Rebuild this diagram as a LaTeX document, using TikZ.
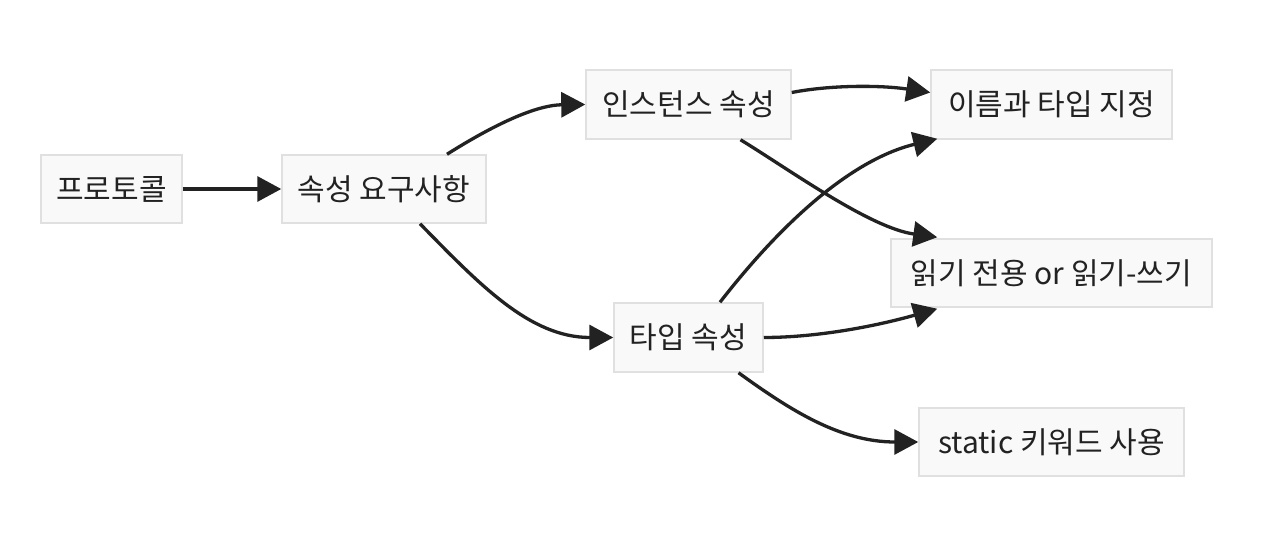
\documentclass[tikz,border=0pt]{standalone}
\usepackage{fontspec}
\setmainfont{Noto Sans CJK KR}
\usetikzlibrary{arrows.meta,calc}
\definecolor{boxfill}{HTML}{F9F9F9}
\definecolor{boxline}{HTML}{E0E0E0}
\definecolor{ink}{HTML}{222222}
\tikzset{
  box/.style={draw=boxline, fill=boxfill, line width=1.5pt, inner sep=0pt,
    minimum height=68pt, text=ink, font=\fontsize{30}{35}\selectfont, align=center},
  conn/.style={draw=ink, line width=3.3pt, -{Triangle[length=24pt,width=25pt]}},
}
\begin{document}
\begin{tikzpicture}[x=1pt,y=-1pt]
\useasboundingbox[fill=white] (0,0) rectangle (1264,540);
\node[box, minimum width=141pt] (proto) at (111.5,189) {프로토콜};
\node[box, minimum width=204pt] (sreq) at (384,189) {속성 요구사항};
\node[box, minimum width=205pt, minimum height=69pt] (inst) at (688.5,104.5) {인스턴스 속성};
\node[box, minimum width=241pt, minimum height=69pt] (name) at (1051.5,104.5) {이름과 타입 지정};
\node[box, minimum width=321pt] (rw) at (1051.5,273) {읽기 전용 or 읽기-쓰기};
\node[box, minimum width=149pt, minimum height=69pt] (type) at (688.5,337.5) {타입 속성};
\node[box, minimum width=265pt] (stat) at (1051.5,442) {static 키워드 사용};

\draw[conn] (proto.east) -- (sreq.west);
\draw[conn] ($(sreq.north)+(63,0)$) .. controls (503,119) and (540,105) .. (inst.west);
\draw[conn] ($(sreq.south)+(36,0)$) .. controls (480,285) and (530,337.5) .. (type.west);
\draw[conn] ($(inst.east)+(0,-12)$) .. controls (830,85) and (880,85) .. ($(name.west)+(0,-12)$);
\draw[conn] ($(inst.south)+(52,0)$) .. controls (790,170) and (870,228) .. ($(rw.north west)+(47,-1)$);
\draw[conn] ($(type.north)+(31.5,0)$) .. controls (780,225) and (850,160) .. ($(name.south west)+(7,-1)$);
\draw[conn] (type.east) .. controls (820,337.5) and (880,325) .. ($(rw.south west)+(47,1)$);
\draw[conn] ($(type.south)+(50,0)$) .. controls (790,410) and (840,442) .. (stat.west);
\end{tikzpicture}
\end{document}
